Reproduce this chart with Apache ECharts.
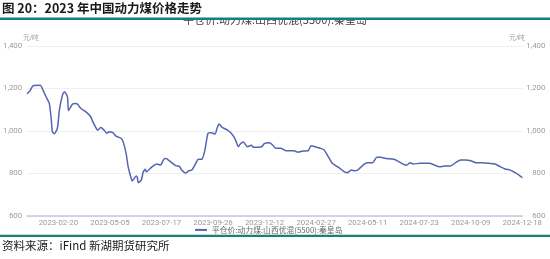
<!DOCTYPE html>
<html><head><meta charset="utf-8">
<script src="https://cdn.jsdelivr.net/npm/echarts@6/dist/echarts.min.js"></script>
<style>html,body{margin:0;padding:0;background:#fff}#c{width:550px;height:259px}</style>
</head><body><div id="c"></div>
<script>
// ---- data ----
const startDate = '2023-01-03';
const endDate = '2024-12-18';
const holidays = ['2023-01-02','2023-01-23','2023-01-24','2023-01-25','2023-01-26','2023-01-27','2023-04-05','2023-05-01','2023-05-02','2023-05-03','2023-06-22','2023-06-23','2023-09-29','2023-10-02','2023-10-03','2023-10-04','2023-10-05','2023-10-06','2024-01-01','2024-02-12','2024-02-13','2024-02-14','2024-02-15','2024-02-16','2024-04-04','2024-04-05','2024-05-01','2024-05-02','2024-05-03','2024-06-10','2024-09-16','2024-09-17','2024-10-01','2024-10-02','2024-10-03','2024-10-04','2024-10-07'];
const makeupWorkdays = ['2023-01-28','2023-01-29','2023-04-23','2023-05-06','2023-06-25','2023-10-07','2023-10-08','2024-02-04','2024-02-18','2024-04-07','2024-04-28','2024-05-11','2024-09-14','2024-09-29','2024-10-12'];
const tickLabels = ['2023-02-20','2023-05-05','2023-07-17','2023-09-26','2023-12-12','2024-02-27','2024-05-11','2024-07-23','2024-10-09','2024-12-18'];
const yTicks = [600, 800, 1000, 1200, 1400];
const seriesName = '平仓价:动力煤:山西优混(5500):秦皇岛';
const dates = ['2023-01-03','2023-01-06','2023-01-11','2023-01-20','2023-01-30','2023-02-02','2023-02-07','2023-02-09','2023-02-10','2023-02-14','2023-02-17','2023-02-21','2023-02-24','2023-02-28','2023-03-03','2023-03-06','2023-03-10','2023-03-15','2023-03-17','2023-03-22','2023-03-29','2023-04-06','2023-04-10','2023-04-14','2023-04-17','2023-04-20','2023-04-24','2023-04-27','2023-05-04','2023-05-09','2023-05-12','2023-05-19','2023-05-23','2023-05-26','2023-05-30','2023-06-02','2023-06-05','2023-06-09','2023-06-12','2023-06-13','2023-06-16','2023-06-20','2023-06-25','2023-06-26','2023-07-03','2023-07-10','2023-07-14','2023-07-20','2023-07-24','2023-07-28','2023-08-04','2023-08-10','2023-08-14','2023-08-18','2023-08-23','2023-08-28','2023-09-01','2023-09-05','2023-09-11','2023-09-14','2023-09-19','2023-09-22','2023-09-28','2023-10-08','2023-10-10','2023-10-13','2023-10-20','2023-10-26','2023-11-01','2023-11-06','2023-11-08','2023-11-13','2023-11-17','2023-11-23','2023-11-27','2023-12-07','2023-12-12','2023-12-19','2023-12-22','2023-12-27','2024-01-04','2024-01-11','2024-01-23','2024-01-29','2024-02-04','2024-02-09','2024-02-20','2024-02-26','2024-03-04','2024-03-08','2024-03-14','2024-03-20','2024-03-26','2024-04-01','2024-04-08','2024-04-11','2024-04-17','2024-04-22','2024-04-25','2024-04-28','2024-05-08','2024-05-11','2024-05-17','2024-05-23','2024-05-29','2024-06-05','2024-06-18','2024-06-25','2024-07-03','2024-07-05','2024-07-10','2024-07-15','2024-07-24','2024-08-06','2024-08-13','2024-08-20','2024-08-27','2024-09-04','2024-09-11','2024-09-19','2024-09-26','2024-10-09','2024-10-15','2024-10-23','2024-11-01','2024-11-11','2024-11-18','2024-11-25','2024-12-02','2024-12-09','2024-12-16','2024-12-18'];
const prices = [1175,1190,1213,1215,1190,1159,1130,1052,997,987,1013,1099,1169,1185,1161,1096,1127,1130,1126,1107,1091,1067,1044,1008,1005,1017,1005,989,997,992,976,966,950,895,832,777,765,788,783,757,769,808,820,808,829,845,840,871,870,855,837,832,816,802,813,816,848,866,867,911,989,992,986,1013,1033,1017,1005,989,961,926,939,948,926,933,923,926,942,945,934,919,919,907,907,900,906,907,931,926,919,911,879,848,835,822,808,804,816,813,816,824,845,851,851,876,876,871,867,855,840,840,851,845,848,848,840,832,835,835,851,864,864,860,851,851,848,845,832,821,816,804,788,780];

// ---- build working-day categories ----
function fmt(d){return d.toISOString().slice(0,10);}
const categories = [];
(function(){
  const d = new Date(startDate + 'T00:00:00Z');
  const e = new Date(endDate + 'T00:00:00Z');
  while (d <= e) {
    const s = fmt(d), wd = d.getUTCDay();
    const work = (wd !== 0 && wd !== 6 && holidays.indexOf(s) < 0) || makeupWorkdays.indexOf(s) >= 0;
    if (work) categories.push(s);
    d.setUTCDate(d.getUTCDate() + 1);
  }
})();
function catIndex(s){
  let i = categories.indexOf(s);
  if (i >= 0) return i;
  for (let k = 0; k < categories.length; k++) if (categories[k] > s) return k;
  return categories.length - 1;
}
const seriesData = dates.map((s, i) => [catIndex(s), prices[i]]);

const chart = echarts.init(document.getElementById('c'), null, {renderer: 'canvas'});
const axisLabelStyle = {color: '#9a9a9a', fontSize: 7.8, fontFamily: 'Roboto, "Noto Sans", sans-serif'};
chart.setOption({
  animation: false,
  backgroundColor: '#fff',
  title: {
    text: seriesName, left: 'center', top: 14, padding: 0,
    textStyle: {fontSize: 11, fontWeight: 'normal', color: '#444', fontFamily: '"Noto Sans CJK SC", sans-serif'}
  },
  legend: {
    data: [seriesName], left: 195, top: 226, itemWidth: 12, itemHeight: 2, icon: 'rect', itemGap: 4, padding: 0,
    textStyle: {fontSize: 7.8, color: '#666', fontFamily: '"Noto Sans CJK SC", sans-serif'}
  },
  grid: {left: 24.1, right: 27.7, top: 46, bottom: 43, containLabel: false},
  xAxis: {
    type: 'category', data: categories, boundaryGap: false,
    axisLine: {lineStyle: {color: '#c8c8dc', width: 1.5}},
    axisTick: {show: false},
    axisLabel: Object.assign({margin: 3, interval: (i, v) => tickLabels.indexOf(v) >= 0, hideOverlap: false}, axisLabelStyle),
    splitLine: {show: false}
  },
  yAxis: [
    {type: 'value', min: yTicks[0], max: yTicks[yTicks.length-1], interval: 200, position: 'left',
     name: '元/吨', nameLocation: 'end', nameGap: 4, nameTextStyle: {color: '#9a9a9a', fontSize: 7, align: 'left', padding: [0, 0, 0, -4]},
     axisLine: {show: false}, axisTick: {show: false},
     axisLabel: Object.assign({margin: 5, formatter: v => v.toLocaleString('en-US')}, axisLabelStyle),
     splitLine: {lineStyle: {color: '#efefef', width: 1}}},
    {type: 'value', min: yTicks[0], max: yTicks[yTicks.length-1], interval: 200, position: 'right',
     name: '元/吨', nameLocation: 'end', nameGap: 4, nameTextStyle: {color: '#9a9a9a', fontSize: 7, align: 'right', padding: [0, -3, 0, 0]},
     axisLine: {show: false}, axisTick: {show: false},
     axisLabel: Object.assign({margin: 23, align: 'right', formatter: v => v.toLocaleString('en-US')}, axisLabelStyle),
     splitLine: {show: false}}
  ],
  series: [{
    name: seriesName, type: 'line', data: seriesData, showSymbol: false, symbol: 'none',
    smooth: 0.2, lineStyle: {color: '#5465b0', width: 1.5}, itemStyle: {color: '#5465b0'}
  }],
  graphic: [
    {type: 'rect', shape: {x: 0, y: 0, width: 550, height: 19}, style: {fill: '#fff'}, z: 100},
    {type: 'rect', shape: {x: 0, y: 17.6, width: 550, height: 2.4}, style: {fill: '#17807e'}, z: 101},
    {type: 'text', left: 2, top: 2, z: 102, style: {text: '图 20：2023 年中国动力煤价格走势', fill: '#1a1a1a', font: 'bold 12.5px "Noto Sans CJK SC", sans-serif'}},
    {type: 'rect', shape: {x: 0, y: 234.8, width: 550, height: 2.2}, style: {fill: '#17807e'}, z: 101},
    {type: 'text', left: 2, top: 240, z: 102, style: {text: '资料来源：iFind 新湖期货研究所', fill: '#1a1a1a', font: '11.5px "Noto Sans CJK SC", sans-serif'}}
  ]
});
</script></body></html>
